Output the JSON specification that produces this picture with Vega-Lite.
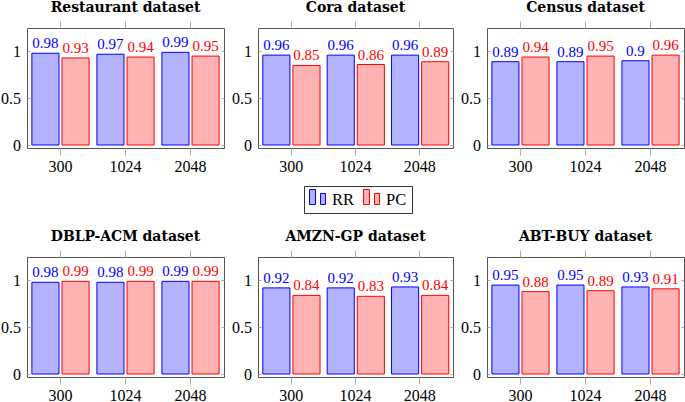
{
  "$schema": "https://vega.github.io/schema/vega-lite/v6.json",
  "padding": 0,
  "background": "white",
  "config": {
    "view": {"stroke": "#555", "strokeWidth": 1},
    "axis": {"domain": false, "grid": false, "title": null, "labelFont": "Liberation Serif", "labelFontSize": 16, "labelColor": "black", "tickColor": "#aaa", "tickWidth": 1},
    "title": {"font": "DejaVu Serif", "fontSize": 14, "fontWeight": "bold", "frame": "group", "offset": 6, "color": "black"},
    "scale": {"bandWithNestedOffsetPaddingInner": 0.12, "bandWithNestedOffsetPaddingOuter": 0.075, "offsetBandPaddingInner": 0.1, "offsetBandPaddingOuter": 0},
    "legend": {"strokeColor": "#333", "fillColor": "white", "padding": 5, "labelFont": "Liberation Serif", "labelFontSize": 16.5, "labelColor": "black", "labelOffset": 6, "columnPadding": 6}
  },
  "data": {"values": [
    {"dataset": "Restaurant", "size": 300, "series": "RR", "value": 0.98},
    {"dataset": "Restaurant", "size": 1024, "series": "RR", "value": 0.97},
    {"dataset": "Restaurant", "size": 2048, "series": "RR", "value": 0.99},
    {"dataset": "Restaurant", "size": 300, "series": "PC", "value": 0.93},
    {"dataset": "Restaurant", "size": 1024, "series": "PC", "value": 0.94},
    {"dataset": "Restaurant", "size": 2048, "series": "PC", "value": 0.95},
    {"dataset": "Cora", "size": 300, "series": "RR", "value": 0.96},
    {"dataset": "Cora", "size": 1024, "series": "RR", "value": 0.96},
    {"dataset": "Cora", "size": 2048, "series": "RR", "value": 0.96},
    {"dataset": "Cora", "size": 300, "series": "PC", "value": 0.85},
    {"dataset": "Cora", "size": 1024, "series": "PC", "value": 0.86},
    {"dataset": "Cora", "size": 2048, "series": "PC", "value": 0.89},
    {"dataset": "Census", "size": 300, "series": "RR", "value": 0.89},
    {"dataset": "Census", "size": 1024, "series": "RR", "value": 0.89},
    {"dataset": "Census", "size": 2048, "series": "RR", "value": 0.9},
    {"dataset": "Census", "size": 300, "series": "PC", "value": 0.94},
    {"dataset": "Census", "size": 1024, "series": "PC", "value": 0.95},
    {"dataset": "Census", "size": 2048, "series": "PC", "value": 0.96},
    {"dataset": "DBLP-ACM", "size": 300, "series": "RR", "value": 0.98},
    {"dataset": "DBLP-ACM", "size": 1024, "series": "RR", "value": 0.98},
    {"dataset": "DBLP-ACM", "size": 2048, "series": "RR", "value": 0.99},
    {"dataset": "DBLP-ACM", "size": 300, "series": "PC", "value": 0.99},
    {"dataset": "DBLP-ACM", "size": 1024, "series": "PC", "value": 0.99},
    {"dataset": "DBLP-ACM", "size": 2048, "series": "PC", "value": 0.99},
    {"dataset": "AMZN-GP", "size": 300, "series": "RR", "value": 0.92},
    {"dataset": "AMZN-GP", "size": 1024, "series": "RR", "value": 0.92},
    {"dataset": "AMZN-GP", "size": 2048, "series": "RR", "value": 0.93},
    {"dataset": "AMZN-GP", "size": 300, "series": "PC", "value": 0.84},
    {"dataset": "AMZN-GP", "size": 1024, "series": "PC", "value": 0.83},
    {"dataset": "AMZN-GP", "size": 2048, "series": "PC", "value": 0.84},
    {"dataset": "ABT-BUY", "size": 300, "series": "RR", "value": 0.95},
    {"dataset": "ABT-BUY", "size": 1024, "series": "RR", "value": 0.95},
    {"dataset": "ABT-BUY", "size": 2048, "series": "RR", "value": 0.93},
    {"dataset": "ABT-BUY", "size": 300, "series": "PC", "value": 0.88},
    {"dataset": "ABT-BUY", "size": 1024, "series": "PC", "value": 0.89},
    {"dataset": "ABT-BUY", "size": 2048, "series": "PC", "value": 0.91}
  ]},
  "bounds": "flush",
  "spacing": 229,
  "vconcat": [
    {"spacing": 34, "bounds": "flush", "hconcat": [
      {"title": "Restaurant dataset", "width": 197, "height": 120,
       "transform": [{"filter": "datum.dataset === 'Restaurant'"}],
       "layer": [
        {"mark": {"type": "bar", "strokeWidth": 1},
         "encoding": {
          "x": {"field": "size", "type": "ordinal", "scale": {"paddingInner": 0.12, "paddingOuter": 0.075}, "axis": {"orient": "bottom", "labelAngle": 0, "tickSize": 7, "labelPadding": 3}},
          "xOffset": {"field": "series", "type": "nominal", "sort": ["RR", "PC"], "scale": {"paddingInner": 0.1, "paddingOuter": 0}},
          "y": {"field": "value", "type": "quantitative", "scale": {"domain": [-0.032, 1.25], "nice": false, "zero": false}, "axis": {"orient": "left", "values": [0, 0.5, 1], "format": "~g", "tickSize": -3, "labelPadding": 9.5}},
          "y2": {"datum": 0},
          "fill": {"field": "series", "type": "nominal", "sort": ["RR", "PC"], "scale": {"domain": ["RR", "PC"], "range": ["#b3b3ff", "#ffb3b3"]}, "legend": {"title": null, "orient": "none", "legendX": 277, "legendY": 158, "direction": "horizontal", "symbolType": "M-1,-1.25H-0.25V0.625H-1Z M0.375,-0.75H1V0.625H0.375Z", "symbolSize": 256, "symbolStrokeWidth": 1}},
          "stroke": {"field": "series", "type": "nominal", "sort": ["RR", "PC"], "scale": {"domain": ["RR", "PC"], "range": ["#0000ff", "#ff0000"]}, "legend": {"title": null, "orient": "none", "legendX": 277, "legendY": 158, "direction": "horizontal", "symbolType": "M-1,-1.25H-0.25V0.625H-1Z M0.375,-0.75H1V0.625H0.375Z", "symbolSize": 256, "symbolStrokeWidth": 1}}
         }},
        {"mark": {"type": "text", "baseline": "alphabetic", "dy": -5, "font": "Liberation Serif", "fontSize": 15},
         "encoding": {
          "x": {"field": "size", "type": "ordinal", "axis": {"orient": "top", "labels": false, "tickSize": 7}},
          "xOffset": {"field": "series", "type": "nominal", "sort": ["RR", "PC"]},
          "y": {"field": "value", "type": "quantitative", "axis": {"orient": "right", "labels": false, "values": [0, 0.5, 1], "tickSize": -3, "minExtent": 0}},
          "text": {"field": "value", "type": "nominal"},
          "color": {"condition": {"test": "datum.series === 'RR'", "value": "#0000ff"}, "value": "#ff0000"}
         }}
       ],
       "resolve": {"axis": {"x": "independent", "y": "independent"}}},
      {"title": "Cora dataset", "width": 195, "height": 120,
       "transform": [{"filter": "datum.dataset === 'Cora'"}],
       "layer": [
        {"mark": {"type": "bar", "strokeWidth": 1},
         "encoding": {
          "x": {"field": "size", "type": "ordinal", "scale": {"paddingInner": 0.12, "paddingOuter": 0.075}, "axis": {"orient": "bottom", "labelAngle": 0, "tickSize": 7, "labelPadding": 3}},
          "xOffset": {"field": "series", "type": "nominal", "sort": ["RR", "PC"], "scale": {"paddingInner": 0.1, "paddingOuter": 0}},
          "y": {"field": "value", "type": "quantitative", "scale": {"domain": [-0.032, 1.25], "nice": false, "zero": false}, "axis": {"orient": "left", "values": [0, 0.5, 1], "format": "~g", "tickSize": -3, "labelPadding": 9.5}},
          "y2": {"datum": 0},
          "fill": {"field": "series", "type": "nominal", "sort": ["RR", "PC"], "scale": {"domain": ["RR", "PC"], "range": ["#b3b3ff", "#ffb3b3"]}, "legend": {"title": null, "orient": "none", "legendX": 277, "legendY": 158, "direction": "horizontal", "symbolType": "M-1,-1.25H-0.25V0.625H-1Z M0.375,-0.75H1V0.625H0.375Z", "symbolSize": 256, "symbolStrokeWidth": 1}},
          "stroke": {"field": "series", "type": "nominal", "sort": ["RR", "PC"], "scale": {"domain": ["RR", "PC"], "range": ["#0000ff", "#ff0000"]}, "legend": {"title": null, "orient": "none", "legendX": 277, "legendY": 158, "direction": "horizontal", "symbolType": "M-1,-1.25H-0.25V0.625H-1Z M0.375,-0.75H1V0.625H0.375Z", "symbolSize": 256, "symbolStrokeWidth": 1}}
         }},
        {"mark": {"type": "text", "baseline": "alphabetic", "dy": -5, "font": "Liberation Serif", "fontSize": 15},
         "encoding": {
          "x": {"field": "size", "type": "ordinal", "axis": {"orient": "top", "labels": false, "tickSize": 7}},
          "xOffset": {"field": "series", "type": "nominal", "sort": ["RR", "PC"]},
          "y": {"field": "value", "type": "quantitative", "axis": {"orient": "right", "labels": false, "values": [0, 0.5, 1], "tickSize": -3, "minExtent": 0}},
          "text": {"field": "value", "type": "nominal"},
          "color": {"condition": {"test": "datum.series === 'RR'", "value": "#0000ff"}, "value": "#ff0000"}
         }}
       ],
       "resolve": {"axis": {"x": "independent", "y": "independent"}}},
      {"title": "Census dataset", "width": 197, "height": 120,
       "transform": [{"filter": "datum.dataset === 'Census'"}],
       "layer": [
        {"mark": {"type": "bar", "strokeWidth": 1},
         "encoding": {
          "x": {"field": "size", "type": "ordinal", "scale": {"paddingInner": 0.12, "paddingOuter": 0.075}, "axis": {"orient": "bottom", "labelAngle": 0, "tickSize": 7, "labelPadding": 3}},
          "xOffset": {"field": "series", "type": "nominal", "sort": ["RR", "PC"], "scale": {"paddingInner": 0.1, "paddingOuter": 0}},
          "y": {"field": "value", "type": "quantitative", "scale": {"domain": [-0.032, 1.25], "nice": false, "zero": false}, "axis": {"orient": "left", "values": [0, 0.5, 1], "format": "~g", "tickSize": -3, "labelPadding": 9.5}},
          "y2": {"datum": 0},
          "fill": {"field": "series", "type": "nominal", "sort": ["RR", "PC"], "scale": {"domain": ["RR", "PC"], "range": ["#b3b3ff", "#ffb3b3"]}, "legend": {"title": null, "orient": "none", "legendX": 277, "legendY": 158, "direction": "horizontal", "symbolType": "M-1,-1.25H-0.25V0.625H-1Z M0.375,-0.75H1V0.625H0.375Z", "symbolSize": 256, "symbolStrokeWidth": 1}},
          "stroke": {"field": "series", "type": "nominal", "sort": ["RR", "PC"], "scale": {"domain": ["RR", "PC"], "range": ["#0000ff", "#ff0000"]}, "legend": {"title": null, "orient": "none", "legendX": 277, "legendY": 158, "direction": "horizontal", "symbolType": "M-1,-1.25H-0.25V0.625H-1Z M0.375,-0.75H1V0.625H0.375Z", "symbolSize": 256, "symbolStrokeWidth": 1}}
         }},
        {"mark": {"type": "text", "baseline": "alphabetic", "dy": -5, "font": "Liberation Serif", "fontSize": 15},
         "encoding": {
          "x": {"field": "size", "type": "ordinal", "axis": {"orient": "top", "labels": false, "tickSize": 7}},
          "xOffset": {"field": "series", "type": "nominal", "sort": ["RR", "PC"]},
          "y": {"field": "value", "type": "quantitative", "axis": {"orient": "right", "labels": false, "values": [0, 0.5, 1], "tickSize": -3, "minExtent": 0}},
          "text": {"field": "value", "type": "nominal"},
          "color": {"condition": {"test": "datum.series === 'RR'", "value": "#0000ff"}, "value": "#ff0000"}
         }}
       ],
       "resolve": {"axis": {"x": "independent", "y": "independent"}}}
    ]},
    {"spacing": 34, "bounds": "flush", "hconcat": [
      {"title": "DBLP-ACM dataset", "width": 197, "height": 120,
       "transform": [{"filter": "datum.dataset === 'DBLP-ACM'"}],
       "layer": [
        {"mark": {"type": "bar", "strokeWidth": 1},
         "encoding": {
          "x": {"field": "size", "type": "ordinal", "scale": {"paddingInner": 0.12, "paddingOuter": 0.075}, "axis": {"orient": "bottom", "labelAngle": 0, "tickSize": 7, "labelPadding": 3}},
          "xOffset": {"field": "series", "type": "nominal", "sort": ["RR", "PC"], "scale": {"paddingInner": 0.1, "paddingOuter": 0}},
          "y": {"field": "value", "type": "quantitative", "scale": {"domain": [-0.032, 1.25], "nice": false, "zero": false}, "axis": {"orient": "left", "values": [0, 0.5, 1], "format": "~g", "tickSize": -3, "labelPadding": 9.5}},
          "y2": {"datum": 0},
          "fill": {"field": "series", "type": "nominal", "sort": ["RR", "PC"], "scale": {"domain": ["RR", "PC"], "range": ["#b3b3ff", "#ffb3b3"]}, "legend": {"title": null, "orient": "none", "legendX": 277, "legendY": 158, "direction": "horizontal", "symbolType": "M-1,-1.25H-0.25V0.625H-1Z M0.375,-0.75H1V0.625H0.375Z", "symbolSize": 256, "symbolStrokeWidth": 1}},
          "stroke": {"field": "series", "type": "nominal", "sort": ["RR", "PC"], "scale": {"domain": ["RR", "PC"], "range": ["#0000ff", "#ff0000"]}, "legend": {"title": null, "orient": "none", "legendX": 277, "legendY": 158, "direction": "horizontal", "symbolType": "M-1,-1.25H-0.25V0.625H-1Z M0.375,-0.75H1V0.625H0.375Z", "symbolSize": 256, "symbolStrokeWidth": 1}}
         }},
        {"mark": {"type": "text", "baseline": "alphabetic", "dy": -5, "font": "Liberation Serif", "fontSize": 15},
         "encoding": {
          "x": {"field": "size", "type": "ordinal", "axis": {"orient": "top", "labels": false, "tickSize": 7}},
          "xOffset": {"field": "series", "type": "nominal", "sort": ["RR", "PC"]},
          "y": {"field": "value", "type": "quantitative", "axis": {"orient": "right", "labels": false, "values": [0, 0.5, 1], "tickSize": -3, "minExtent": 0}},
          "text": {"field": "value", "type": "nominal"},
          "color": {"condition": {"test": "datum.series === 'RR'", "value": "#0000ff"}, "value": "#ff0000"}
         }}
       ],
       "resolve": {"axis": {"x": "independent", "y": "independent"}}},
      {"title": "AMZN-GP dataset", "width": 195, "height": 120,
       "transform": [{"filter": "datum.dataset === 'AMZN-GP'"}],
       "layer": [
        {"mark": {"type": "bar", "strokeWidth": 1},
         "encoding": {
          "x": {"field": "size", "type": "ordinal", "scale": {"paddingInner": 0.12, "paddingOuter": 0.075}, "axis": {"orient": "bottom", "labelAngle": 0, "tickSize": 7, "labelPadding": 3}},
          "xOffset": {"field": "series", "type": "nominal", "sort": ["RR", "PC"], "scale": {"paddingInner": 0.1, "paddingOuter": 0}},
          "y": {"field": "value", "type": "quantitative", "scale": {"domain": [-0.032, 1.25], "nice": false, "zero": false}, "axis": {"orient": "left", "values": [0, 0.5, 1], "format": "~g", "tickSize": -3, "labelPadding": 9.5}},
          "y2": {"datum": 0},
          "fill": {"field": "series", "type": "nominal", "sort": ["RR", "PC"], "scale": {"domain": ["RR", "PC"], "range": ["#b3b3ff", "#ffb3b3"]}, "legend": {"title": null, "orient": "none", "legendX": 277, "legendY": 158, "direction": "horizontal", "symbolType": "M-1,-1.25H-0.25V0.625H-1Z M0.375,-0.75H1V0.625H0.375Z", "symbolSize": 256, "symbolStrokeWidth": 1}},
          "stroke": {"field": "series", "type": "nominal", "sort": ["RR", "PC"], "scale": {"domain": ["RR", "PC"], "range": ["#0000ff", "#ff0000"]}, "legend": {"title": null, "orient": "none", "legendX": 277, "legendY": 158, "direction": "horizontal", "symbolType": "M-1,-1.25H-0.25V0.625H-1Z M0.375,-0.75H1V0.625H0.375Z", "symbolSize": 256, "symbolStrokeWidth": 1}}
         }},
        {"mark": {"type": "text", "baseline": "alphabetic", "dy": -5, "font": "Liberation Serif", "fontSize": 15},
         "encoding": {
          "x": {"field": "size", "type": "ordinal", "axis": {"orient": "top", "labels": false, "tickSize": 7}},
          "xOffset": {"field": "series", "type": "nominal", "sort": ["RR", "PC"]},
          "y": {"field": "value", "type": "quantitative", "axis": {"orient": "right", "labels": false, "values": [0, 0.5, 1], "tickSize": -3, "minExtent": 0}},
          "text": {"field": "value", "type": "nominal"},
          "color": {"condition": {"test": "datum.series === 'RR'", "value": "#0000ff"}, "value": "#ff0000"}
         }}
       ],
       "resolve": {"axis": {"x": "independent", "y": "independent"}}},
      {"title": "ABT-BUY dataset", "width": 197, "height": 120,
       "transform": [{"filter": "datum.dataset === 'ABT-BUY'"}],
       "layer": [
        {"mark": {"type": "bar", "strokeWidth": 1},
         "encoding": {
          "x": {"field": "size", "type": "ordinal", "scale": {"paddingInner": 0.12, "paddingOuter": 0.075}, "axis": {"orient": "bottom", "labelAngle": 0, "tickSize": 7, "labelPadding": 3}},
          "xOffset": {"field": "series", "type": "nominal", "sort": ["RR", "PC"], "scale": {"paddingInner": 0.1, "paddingOuter": 0}},
          "y": {"field": "value", "type": "quantitative", "scale": {"domain": [-0.032, 1.25], "nice": false, "zero": false}, "axis": {"orient": "left", "values": [0, 0.5, 1], "format": "~g", "tickSize": -3, "labelPadding": 9.5}},
          "y2": {"datum": 0},
          "fill": {"field": "series", "type": "nominal", "sort": ["RR", "PC"], "scale": {"domain": ["RR", "PC"], "range": ["#b3b3ff", "#ffb3b3"]}, "legend": {"title": null, "orient": "none", "legendX": 277, "legendY": 158, "direction": "horizontal", "symbolType": "M-1,-1.25H-0.25V0.625H-1Z M0.375,-0.75H1V0.625H0.375Z", "symbolSize": 256, "symbolStrokeWidth": 1}},
          "stroke": {"field": "series", "type": "nominal", "sort": ["RR", "PC"], "scale": {"domain": ["RR", "PC"], "range": ["#0000ff", "#ff0000"]}, "legend": {"title": null, "orient": "none", "legendX": 277, "legendY": 158, "direction": "horizontal", "symbolType": "M-1,-1.25H-0.25V0.625H-1Z M0.375,-0.75H1V0.625H0.375Z", "symbolSize": 256, "symbolStrokeWidth": 1}}
         }},
        {"mark": {"type": "text", "baseline": "alphabetic", "dy": -5, "font": "Liberation Serif", "fontSize": 15},
         "encoding": {
          "x": {"field": "size", "type": "ordinal", "axis": {"orient": "top", "labels": false, "tickSize": 7}},
          "xOffset": {"field": "series", "type": "nominal", "sort": ["RR", "PC"]},
          "y": {"field": "value", "type": "quantitative", "axis": {"orient": "right", "labels": false, "values": [0, 0.5, 1], "tickSize": -3, "minExtent": 0}},
          "text": {"field": "value", "type": "nominal"},
          "color": {"condition": {"test": "datum.series === 'RR'", "value": "#0000ff"}, "value": "#ff0000"}
         }}
       ],
       "resolve": {"axis": {"x": "independent", "y": "independent"}}}
    ]}
  ]
}
